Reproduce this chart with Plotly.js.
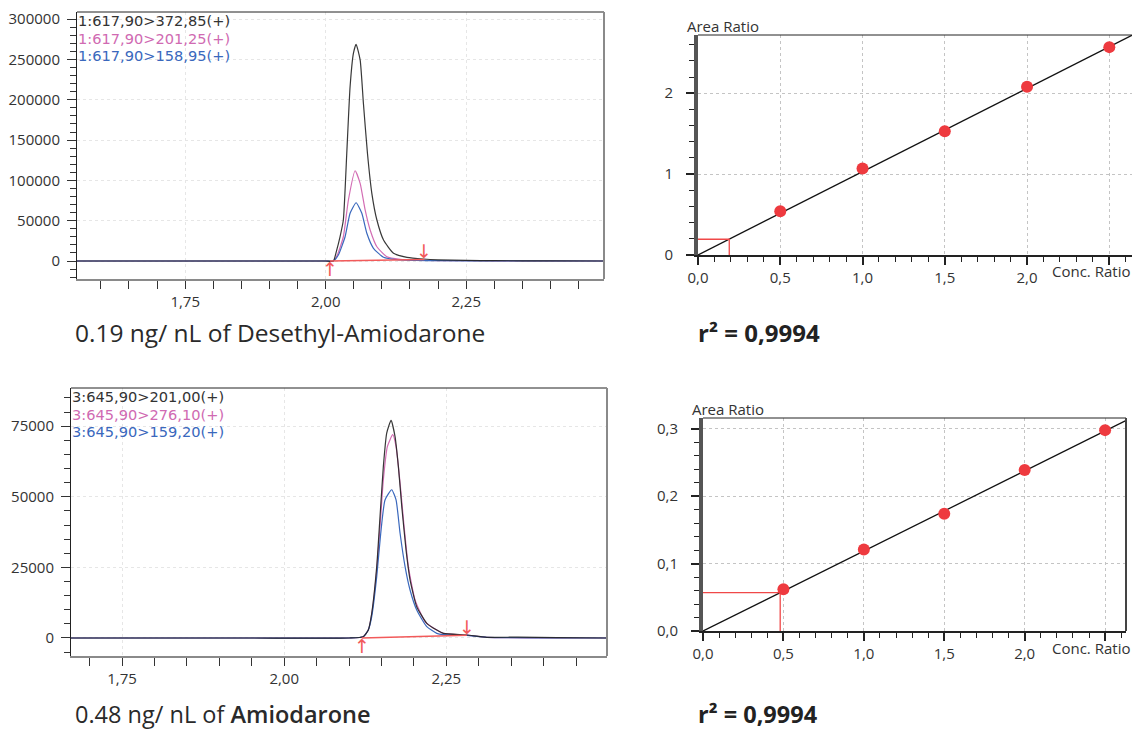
<!DOCTYPE html>
<html>
<head>
<meta charset="utf-8">
<script src="https://cdn.plot.ly/plotly-3.0.1.min.js"></script>
<style>html,body{margin:0;padding:0;background:#fff;}#chart{width:1132px;height:731px;}</style>
</head>
<body>
<div id="chart"></div>
<script>
// ---------- DATA ----------
// Desethyl-Amiodarone chromatogram (time in min, intensity)
const desTimeBlack = [1.5575, 1.70, 1.85, 2.000, 2.0136, 2.0196, 2.0255, 2.0314, 2.0375, 2.0434, 2.0493, 2.0541, 2.0613, 2.0671, 2.0743, 2.0821, 2.0911, 2.1029, 2.1207, 2.1446, 2.1743, 2.20, 2.25, 2.30, 2.40, 2.4952];
const desIntBlack  = [0, 0, 0, 0, 0, 13600, 30100, 50900, 133600, 216200, 257700, 268900, 249400, 195700, 133600, 84000, 50900, 26100, 9600, 4600, 2500, 1500, 800, 400, 200, 0];
const desTimePink  = [1.5575, 1.85, 2.00, 2.0136, 2.0207, 2.0314, 2.0404, 2.0523, 2.0613, 2.0702, 2.0791, 2.0911, 2.1089, 2.1327, 2.16, 2.20, 2.30, 2.4952];
const desIntPink   = [0, 0, 0, 0, 7400, 30100, 75700, 112000, 96400, 63300, 38500, 17700, 5300, 2100, 1000, 500, 200, 0];
const desTimeBlue  = [1.5575, 1.85, 2.00, 2.0136, 2.0225, 2.0345, 2.0434, 2.0541, 2.0643, 2.0732, 2.085, 2.1029, 2.1266, 2.16, 2.20, 2.30, 2.4952];
const desIntBlue   = [0, 0, 0, 0, 7400, 30100, 59200, 72300, 59200, 34400, 15800, 4600, 1600, 800, 400, 200, 0];
const desPeakStart = [2.0077, 0];
const desPeakEnd   = [2.1755, 2000];
const desLabels    = ["1:617,90>372,85(+)", "1:617,90>201,25(+)", "1:617,90>158,95(+)"];

// Amiodarone chromatogram
const amiTimeBlack = [1.6713, 1.80, 1.95, 2.10, 2.1219, 2.1296, 2.1349, 2.1426, 2.1477, 2.1528, 2.158, 2.1647, 2.1708, 2.176, 2.1812, 2.1878, 2.194, 2.2043, 2.2198, 2.2352, 2.2454, 2.2815, 2.3124, 2.36, 2.42, 2.4976];
const amiIntBlack  = [0, 0, 0, 0, 460, 2800, 8760, 25300, 43000, 60700, 72600, 77060, 71400, 60700, 46600, 31200, 20600, 11100, 5200, 2800, 1650, 1060, 250, 300, 100, 0];
const amiTimePink  = [1.6713, 1.95, 2.10, 2.1219, 2.1296, 2.1349, 2.1426, 2.1477, 2.1528, 2.159, 2.1673, 2.1724, 2.1786, 2.1848, 2.1914, 2.2017, 2.2171, 2.2352, 2.2454, 2.2815, 2.3124, 2.4976];
const amiIntPink   = [0, 0, 0, 460, 2800, 8500, 24000, 39500, 56000, 67800, 72000, 67800, 54900, 39500, 25300, 13500, 5800, 2800, 1650, 1000, 250, 0];
const amiTimeBlue  = [1.6713, 1.95, 2.10, 2.1219, 2.1296, 2.1349, 2.1426, 2.1488, 2.1554, 2.1657, 2.1724, 2.1786, 2.1863, 2.194, 2.2043, 2.2198, 2.2352, 2.2454, 2.2815, 2.3124, 2.4976];
const amiIntBlue   = [0, 0, 0, 460, 2800, 7550, 21700, 37100, 48900, 52500, 48900, 37100, 25300, 17000, 9900, 4000, 1650, 1200, 900, 250, 0];
const amiPeakStart = [2.1194, 0];
const amiPeakEnd   = [2.2815, 1000];
const amiLabels    = ["3:645,90>201,00(+)", "3:645,90>276,10(+)", "3:645,90>159,20(+)"];

// Calibration curves
const calibConc     = [0.5, 1.0, 1.5, 2.0, 2.5];
const desAreaRatio  = [0.54, 1.07, 1.53, 2.08, 2.57];
const amiAreaRatio  = [0.062, 0.121, 0.174, 0.239, 0.298];
const fitConc       = [0, 2.7];
const desFitRatio   = [0, 2.781];
const amiFitRatio   = [0, 0.3205];
const desUnknown    = [0.19, 0.195];   // conc, ratio
const amiUnknown    = [0.48, 0.057];
const desCaption = "0.19 ng/ nL of Desethyl-Amiodarone";
const amiCaption = "0.48 ng/ nL of <span style=\"font-weight:600\">Amiodarone</span>";
const rSquared = "r² = 0,9994";

// ---------- LAYOUT HELPERS ----------
const W = 1132, H = 731;
const PX = x => x / W;
const PY = y => 1 - y / H;
const FONT = "Open Sans, Noto Sans, sans-serif";
const LFONT = "DejaVu Sans, Open Sans, sans-serif";
const cBlack = "#222222", cPink = "#d36db4", cBlue = "#3a68bd", cRed = "#ee3a3f", cBase = "#f25a5a";
const tickFont = {family: FONT, size: 15, color: "#333"};

function chromTraces(xa, ya, tb, ib, tp, ip, tl, il, ps, pe) {
  return [
    {x: tp, y: ip, xaxis: xa, yaxis: ya, mode: "lines", line: {color: cPink, width: 1.2, shape: "spline", smoothing: 0.5}, hoverinfo: "skip"},
    {x: tl, y: il, xaxis: xa, yaxis: ya, mode: "lines", line: {color: cBlue, width: 1.2, shape: "spline", smoothing: 0.5}, hoverinfo: "skip"},
    {x: tb, y: ib, xaxis: xa, yaxis: ya, mode: "lines", line: {color: cBlack, width: 1.2, shape: "spline", smoothing: 0.5}, opacity: 0.9, hoverinfo: "skip"},
    {x: [ps[0], pe[0]], y: [ps[1], pe[1]], xaxis: xa, yaxis: ya, mode: "lines", line: {color: cBase, width: 1.5}, hoverinfo: "skip"}
  ];
}
function calibTraces(xa, ya, ratio, fitY, unk) {
  return [
    {x: fitConc, y: fitY, xaxis: xa, yaxis: ya, mode: "lines", line: {color: "#111", width: 1.3}, hoverinfo: "skip"},
    {x: [0, unk[0], unk[0]], y: [unk[1], unk[1], 0], xaxis: xa, yaxis: ya, mode: "lines", line: {color: "#f04848", width: 1.3}, hoverinfo: "skip"},
    {x: calibConc, y: ratio, xaxis: xa, yaxis: ya, mode: "markers", marker: {color: cRed, size: 12}, cliponaxis: false, hoverinfo: "skip"}
  ];
}

const data = [].concat(
  chromTraces("x", "y", desTimeBlack, desIntBlack, desTimePink, desIntPink, desTimeBlue, desIntBlue, desPeakStart, desPeakEnd),
  calibTraces("x2", "y2", desAreaRatio, desFitRatio, desUnknown),
  chromTraces("x3", "y3", amiTimeBlack, amiIntBlack, amiTimePink, amiIntPink, amiTimeBlue, amiIntBlue, amiPeakStart, amiPeakEnd),
  calibTraces("x4", "y4", amiAreaRatio, amiFitRatio, amiUnknown)
);

function chromX(domain, range, anchor) {
  return {domain, range, anchor, tickmode: "linear", tick0: 0, dtick: 0.25, tickformat: ".2f",
    ticks: "outside", ticklen: 8, tickwidth: 1, tickcolor: "#333", tickfont: tickFont,
    showline: true, linecolor: "#8a8a8a", linewidth: 2, showgrid: true, gridcolor: "#e6e6e6", griddash: "dot", zeroline: false,
    minor: {tick0: 0, dtick: 0.05, ticks: "outside", ticklen: 8, tickwidth: 1, tickcolor: "#333", showgrid: false}};
}
function chromY(domain, range, anchor, dtick, mdtick) {
  return {domain, range, anchor, tickmode: "linear", tick0: 0, dtick, tickformat: "d",
    ticks: "outside", ticklen: 9, tickwidth: 1, tickcolor: "#333", tickfont: tickFont, ticklabelstandoff: 4,
    showline: true, linecolor: "#222", linewidth: 1, showgrid: true, gridcolor: "#e6e6e6", griddash: "dot", zeroline: false,
    minor: {tick0: 0, dtick: mdtick, ticks: "outside", ticklen: 6, tickwidth: 1, tickcolor: "#333", showgrid: false}};
}
function calX(domain, range, anchor) {
  return {domain, range, anchor, tickmode: "linear", tick0: 0, dtick: 0.5, tickformat: ".1f", labelalias: {"2,5": " "},
    ticks: "outside", ticklen: 8, tickwidth: 2, tickcolor: "#222", tickfont: tickFont,
    showline: true, linecolor: "#222", linewidth: 2, showgrid: true, gridcolor: "#c4c4c4", griddash: "dot", zeroline: false,
    minor: {tick0: 0, dtick: 0.1, ticks: "outside", ticklen: 5, tickwidth: 1, tickcolor: "#222", showgrid: false}};
}
function calY(domain, range, anchor, dtick, mdtick, fmt) {
  return {domain, range, anchor, tickmode: "linear", tick0: 0, dtick, tickformat: fmt,
    ticks: "outside", ticklen: 8, tickwidth: 2, tickcolor: "#222", tickfont: tickFont, ticklabelstandoff: 10,
    showline: true, linecolor: "#555", linewidth: 4, showgrid: true, gridcolor: "#c4c4c4", griddash: "dot", zeroline: false,
    minor: {tick0: 0, dtick: mdtick, ticks: "outside", ticklen: 5, tickwidth: 1, tickcolor: "#222", showgrid: false}};
}

function border(xr, yr, x0, y0, x1, y1, color, width) {
  return {type: "line", xref: xr + " domain", yref: yr + " domain", x0, y0, x1, y1, line: {color, width}};
}
function ann(text, x, y, opts) {
  return Object.assign({text, x: PX(x), y: PY(y), xref: "paper", yref: "paper", xanchor: "left", yanchor: "middle", showarrow: false,
    borderpad: 0, font: {family: FONT, size: 15, color: "#333"}}, opts || {});
}
function arrow(glyph, xr, yr, pt, yanchor, yshift) {
  return {text: glyph, x: pt[0], y: pt[1], xref: xr, yref: yr, xanchor: "center", yanchor, yshift, showarrow: false,
    borderpad: 0, font: {family: "DejaVu Sans", size: 19, color: cBase}};
}
const legendColors = ["#333", "#d06ab2", "#3a68bd"];
const legFont = c => ({font: {family: LFONT, size: 14.6, color: c}});

const layout = {
  width: W, height: H, autosize: false, showlegend: false,
  margin: {l: 0, r: 0, t: 0, b: 0, pad: 0},
  paper_bgcolor: "#fff", plot_bgcolor: "#fff",
  separators: ",.",
  font: {family: FONT, color: "#333"},
  xaxis:  chromX([PX(77), PX(604)], [1.5575, 2.4952], "y"),
  yaxis:  chromY([PY(279), PY(12)], [-22300, 308900], "x", 50000, 10000),
  xaxis2: calX([PX(698), PX(1132)], [0, 2.638], "y2"),
  yaxis2: calY([PY(255), PY(35)], [0, 2.72], "x2", 1, 0.2, "d"),
  xaxis3: chromX([PX(71), PX(607)], [1.6713, 2.4976], "y3"),
  yaxis3: chromY([PY(656), PY(388)], [-6380, 88540], "x3", 25000, 5000),
  xaxis4: calX([PX(703), PX(1126)], [0, 2.63], "y4"),
  yaxis4: calY([PY(631), PY(418)], [0, 0.316], "x4", 0.1, 0.02, ".1f"),
  shapes: [
    border("x", "y", 0, 1, 1, 1, "#222", 1),
    border("x", "y", 1, 0, 1, 1, "#8a8a8a", 2),
    border("x3", "y3", 0, 1, 1, 1, "#222", 1),
    border("x3", "y3", 1, 0, 1, 1, "#8a8a8a", 2),
    border("x2", "y2", 0, 1, 1, 1, "#222", 1),
    border("x4", "y4", 0, 1, 1, 1, "#222", 1),
    border("x4", "y4", 1, 0, 1, 1, "#444", 2)
  ],
  annotations: [
    ann(desLabels[0], 77, 20.5, legFont(legendColors[0])),
    ann(desLabels[1], 77, 38, legFont(legendColors[1])),
    ann(desLabels[2], 77, 55.5, legFont(legendColors[2])),
    ann(amiLabels[0], 71, 396.5, legFont(legendColors[0])),
    ann(amiLabels[1], 71, 414, legFont(legendColors[1])),
    ann(amiLabels[2], 71, 431.5, legFont(legendColors[2])),
    ann("Area Ratio", 686, 26.5),
    ann("Area Ratio", 691, 409),
    ann("Conc. Ratio", 1131, 271, {xanchor: "right"}),
    ann("Conc. Ratio", 1131, 648, {xanchor: "right"}),
    ann(desCaption, 74, 332, {font: {family: FONT, size: 24.5, color: "#2a2a2a"}}),
    ann(amiCaption, 74, 714, {font: {family: FONT, size: 23.5, color: "#2a2a2a"}}),
    ann("<b>" + rSquared + "</b>", 697, 332, {font: {family: FONT, size: 24, color: "#222"}}),
    ann("<b>" + rSquared + "</b>", 697, 714, {font: {family: FONT, size: 23.5, color: "#222"}}),
    arrow("↑", "x", "y", desPeakStart, "top", 4),
    arrow("↓", "x", "y", desPeakEnd, "bottom", -4),
    arrow("↑", "x3", "y3", amiPeakStart, "top", 4),
    arrow("↓", "x3", "y3", amiPeakEnd, "bottom", -4)
  ]
};

Plotly.newPlot("chart", data, layout, {staticPlot: true, displayModeBar: false});
</script>
</body>
</html>
